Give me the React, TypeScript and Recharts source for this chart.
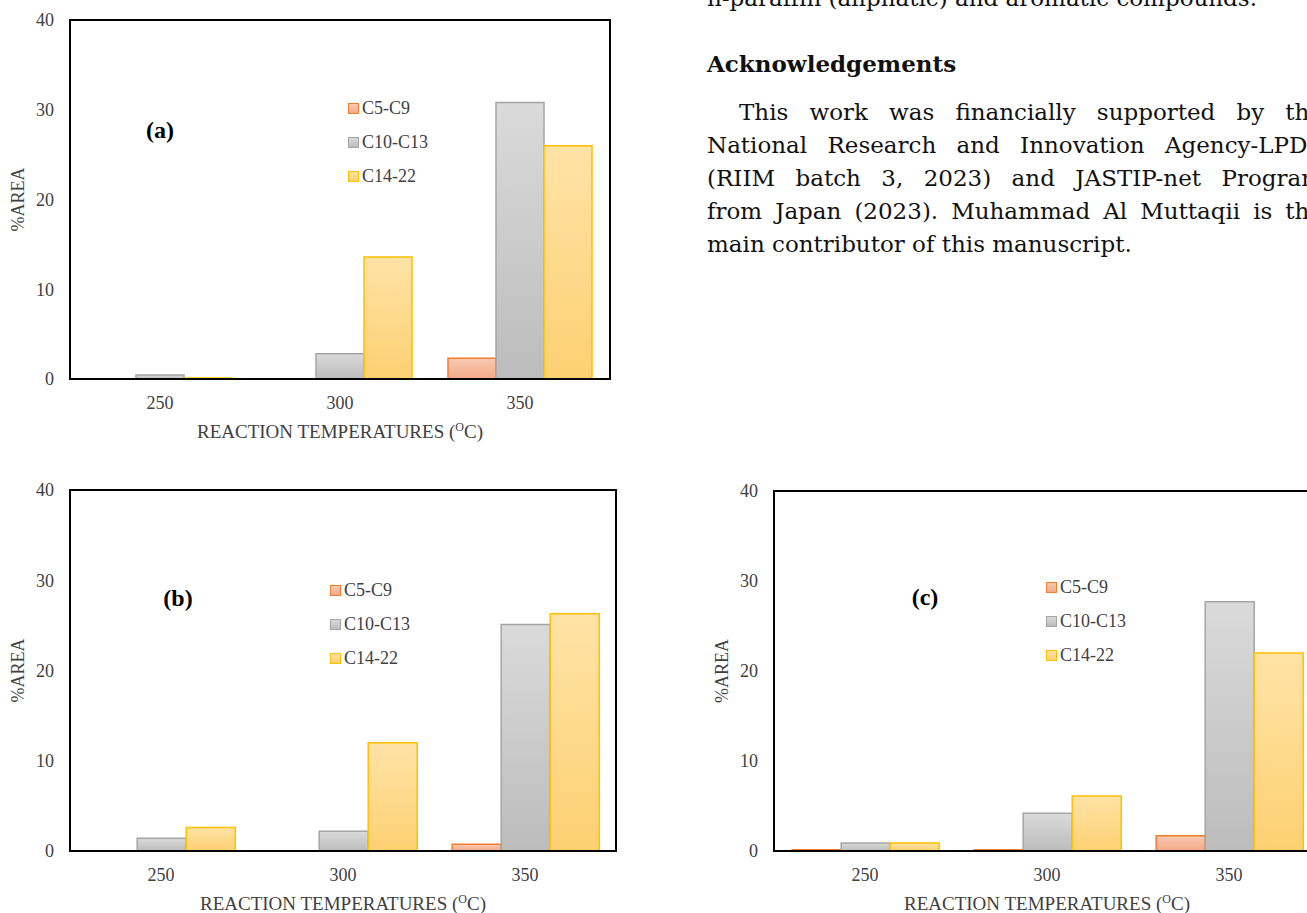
import React from "react";
import { BarChart, Bar, XAxis, YAxis, Legend, ReferenceArea } from "recharts";

const temps = ["250", "300", "350"];
const seriesNames = ["C5-C9", "C10-C13", "C14-22"];
const yTicks = [0, 10, 20, 30, 40];

// panel (a)
const c5a = [0, 0, 2.3];
const c10a = [0.45, 2.8, 30.8];
const c14a = [0.1, 13.6, 26.0];

// panel (b)
const c5b = [0, 0, 0.75];
const c10b = [1.4, 2.2, 25.1];
const c14b = [2.6, 12.0, 26.3];

// panel (c)
const c5c = [0.15, 0.15, 1.7];
const c10c = [0.9, 4.2, 27.7];
const c14c = [0.9, 6.1, 22.0];

const seriesStyle = [
  { key: "c5", stroke: "#ed7d31", top: "#f9c9b2", bottom: "#f3aa88" },
  { key: "c10", stroke: "#a5a5a5", top: "#dadada", bottom: "#bcbcbc" },
  { key: "c14", stroke: "#ffc000", top: "#ffe3a6", bottom: "#fdd072" },
];

const serif = '"Liberation Serif", "Times New Roman", serif';
const textGray = "#404040";

function rows(c5: number[], c10: number[], c14: number[]) {
  return temps.map((t, i) => ({ temp: t, c5: c5[i], c10: c10[i], c14: c14[i] }));
}

const XTitle = (props: any) => {
  const { x, y, width } = props.viewBox;
  return (
    <text x={x + width / 2} y={y + 59} textAnchor="middle" fontFamily={serif} fontSize={19} fill={textGray}>
      REACTION TEMPERATURES (
      <tspan fontSize={12} dy={-7}>O</tspan>
      <tspan dy={7}>C)</tspan>
    </text>
  );
};

const YTitle = (props: any) => {
  const { x, y, height } = props.viewBox;
  const cx = x + 18;
  const cy = y + height / 2;
  return (
    <text x={cx} y={cy} transform={`rotate(-90 ${cx} ${cy})`} textAnchor="middle" dominantBaseline="central" fontFamily={serif} fontSize={18} fill={textGray}>
      %AREA
    </text>
  );
};

const LegendBox = () => (
  <div style={{ fontFamily: serif, fontSize: 18, color: textGray }}>
    {seriesNames.map((name, i) => (
      <div key={name} style={{ height: 34, display: "flex", alignItems: "center" }}>
        <span
          style={{
            width: 9,
            height: 9,
            border: `1.5px solid ${seriesStyle[i].stroke}`,
            background: `linear-gradient(${seriesStyle[i].top}, ${seriesStyle[i].bottom})`,
            marginRight: 3,
            display: "inline-block",
          }}
        />
        <span>{name}</span>
      </div>
    ))}
  </div>
);

type PanelProps = {
  id: string;
  tag: string;
  data: any[];
  left: number;
  top: number;
  w: number;
  h: number;
  plotTop: number;
  plotRight: number;
  plotBottom: number;
  tagX: number;
  tagY: number;
  legX: number;
  legY: number;
};

function Panel(p: PanelProps) {
  const margin = {
    top: p.plotTop - p.top,
    left: 0,
    right: p.left + p.w - p.plotRight,
    bottom: p.top + p.h - p.plotBottom - 60,
  };
  const frame = { stroke: "#000", strokeWidth: 2 };
  return (
    <div style={{ position: "absolute", left: p.left, top: p.top, width: p.w, height: p.h }}>
      <BarChart width={p.w} height={p.h} data={p.data} margin={margin} barCategoryGap="10%" barGap={0}>
        <defs>
          {seriesStyle.map((s) => (
            <linearGradient key={s.key} id={`${p.id}-${s.key}`} x1="0" y1="0" x2="0" y2="1">
              <stop offset="0%" stopColor={s.top} />
              <stop offset="100%" stopColor={s.bottom} />
            </linearGradient>
          ))}
        </defs>
        <XAxis
          dataKey="temp"
          height={60}
          axisLine={frame}
          tickLine={false}
          tickSize={0}
          tickMargin={17}
          tick={{ fontFamily: serif, fontSize: 18, fill: textGray }}
          label={XTitle}
        />
        <YAxis
          domain={[0, 40]}
          ticks={yTicks}
          width={70}
          axisLine={frame}
          tickLine={false}
          tickSize={0}
          tickMargin={16}
          tick={{ fontFamily: serif, fontSize: 18, fill: textGray }}
          label={YTitle}
        />
        <ReferenceArea y1={0} y2={40} fill="none" stroke="#000" strokeWidth={2} ifOverflow="visible" />
        <Legend
          layout="vertical"
          align="center"
          verticalAlign="middle"
          wrapperStyle={{ left: p.legX - p.left, top: p.legY - p.top, width: "auto", height: "auto" }}
          content={LegendBox}
        />
        {seriesStyle.map((s, i) => (
          <Bar
            key={s.key}
            dataKey={s.key}
            name={seriesNames[i]}
            fill={`url(#${p.id}-${s.key})`}
            stroke={s.stroke}
            strokeWidth={1.5}
            isAnimationActive={false}
          />
        ))}
      </BarChart>
      <div
        style={{
          position: "absolute",
          left: p.tagX - p.left - 30,
          top: p.tagY - p.top - 15,
          width: 60,
          height: 30,
          lineHeight: "30px",
          textAlign: "center",
          fontFamily: serif,
          fontWeight: "bold",
          fontSize: 24,
          color: "#000",
        }}
      >
        {p.tag}
      </div>
    </div>
  );
}

const bodyFont = '"DejaVu Serif", serif';

const lineStyle = (center: number, indent = 0, justify = true): React.CSSProperties => ({
  position: "absolute",
  left: 707 + indent,
  top: center - 16.5,
  width: 616 - indent,
  height: 33,
  lineHeight: "33px",
  whiteSpace: "nowrap",
  textAlign: justify ? "justify" : "left",
  textAlignLast: justify ? "justify" : "left",
  fontFamily: bodyFont,
  fontSize: 23,
  color: "#111",
});

export default function App() {
  return (
    <div style={{ position: "absolute", left: 0, top: 0, width: 1307, height: 913, overflow: "hidden", background: "#fff" }}>
      <Panel id="pa" tag="(a)" data={rows(c5a, c10a, c14a)} left={0} top={0} w={640} h={460}
        plotTop={20} plotRight={610} plotBottom={379} tagX={160} tagY={130} legX={348} legY={91} />
      <Panel id="pb" tag="(b)" data={rows(c5b, c10b, c14b)} left={0} top={470} w={650} h={443}
        plotTop={490} plotRight={616} plotBottom={851} tagX={178} tagY={598} legX={330} legY={573} />
      <Panel id="pc" tag="(c)" data={rows(c5c, c10c, c14c)} left={704} top={470} w={650} h={443}
        plotTop={491} plotRight={1320} plotBottom={851} tagX={925} tagY={597} legX={1046} legY={570} />

      <div style={lineStyle(-2, 0, false)}>n-paraffin (aliphatic) and aromatic compounds.</div>
      <div style={{ ...lineStyle(63, 0, false), fontWeight: "bold" }}>Acknowledgements</div>
      <div style={lineStyle(112, 32)}>This work was financially supported by the</div>
      <div style={lineStyle(145)}>National Research and Innovation Agency-LPDP</div>
      <div style={lineStyle(178)}>(RIIM batch 3, 2023) and JASTIP-net Program</div>
      <div style={lineStyle(211)}>from Japan (2023). Muhammad Al Muttaqii is the</div>
      <div style={lineStyle(244, 0, false)}>main contributor of this manuscript.</div>
    </div>
  );
}
